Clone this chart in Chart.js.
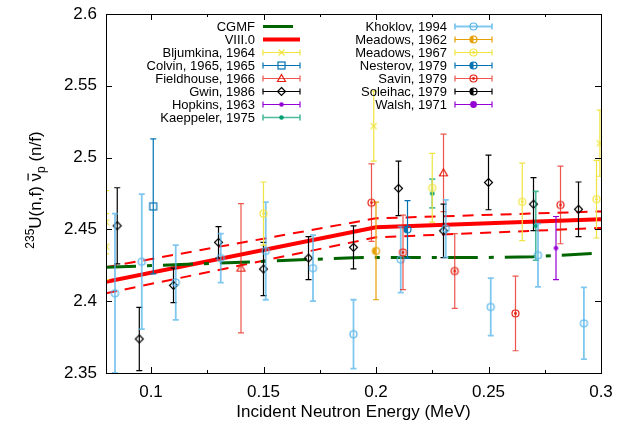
<!DOCTYPE html>
<html>
<head>
<meta charset="utf-8">
<script src="https://cdn.jsdelivr.net/npm/chart.js@4.4.0/dist/chart.umd.min.js"></script>
<style>
  html, body { margin: 0; padding: 0; background: #fff; }
  #wrap { width: 618px; height: 424px; }
</style>
</head>
<body>
<div id="wrap"><canvas id="chart"></canvas></div>
<script>
// ---------- axes ----------
const xTicks = [0.1, 0.15, 0.2, 0.25, 0.3];
const xTickLabels = ["0.1", "0.15", "0.2", "0.25", "0.3"];
const xMinorTicks = [0.125, 0.175, 0.225, 0.275];
const yTicks = [2.35, 2.4, 2.45, 2.5, 2.55, 2.6];
const yTickLabels = ["2.35", "2.4", "2.45", "2.5", "2.55", "2.6"];

// ---------- evaluations ----------
const cgmfE = [0.08, 0.13, 0.19, 0.21, 0.25, 0.27, 0.3];
const cgmfV = [2.4236, 2.4265, 2.4303, 2.4305, 2.4305, 2.431, 2.4335];
const endfE = [0.08, 0.2, 0.3];
const endfV = [2.4136, 2.4515, 2.457];
const endfHi = [2.4237, 2.4577, 2.4625];
const endfLo = [2.4055, 2.4445, 2.451];

// ---------- experiments (energy, nu-bar, uncertainty) ----------
const bljE = [0.0801, 0.0801, 0.199, 0.2995];
const bljV = [2.455, 2.438, 2.522, 2.510];
const bljErr = [0.022, 0.023, 0.0245, 0.023];

const colE = [0.101];
const colV = [2.466];
const colErr = [0.047];

const fieE = [0.140, 0.230];
const fieV = [2.423, 2.4894];
const fieErr = [0.045, 0.027];

const gwinE = [0.085, 0.0948, 0.110, 0.130, 0.150, 0.170, 0.190, 0.210, 0.230, 0.250, 0.270, 0.290];
const gwinV = [2.4525, 2.3737, 2.411, 2.441, 2.4224, 2.430, 2.4375, 2.4786, 2.449, 2.4827, 2.4676, 2.464];
const gwinErr = [0.0265, 0.022, 0.012, 0.011, 0.0185, 0.015, 0.015, 0.019, 0.0186, 0.019, 0.0185, 0.019];

const hopE = [0.280];
const hopV = [2.437];
const hopErr = [0.022];

const kaeE = [0.225, 0.271];
const kaeV = [2.475, 2.4525];
const kaeErr = [0.01, 0.024];

const khoE = [0.084, 0.0959, 0.111, 0.131, 0.151, 0.172, 0.190, 0.211, 0.231, 0.251, 0.272, 0.2924];
const khoV = [2.4055, 2.4275, 2.413, 2.430, 2.435, 2.423, 2.377, 2.429, 2.4505, 2.396, 2.432, 2.3846];
const khoErr = [0.0555, 0.047, 0.026, 0.017, 0.034, 0.023, 0.024, 0.023, 0.02, 0.02, 0.022, 0.025];

const m62E = [0.200];
const m62V = [2.435];
const m62Err = [0.034];

const m67E = [0.150, 0.225, 0.265, 0.298];
const m67V = [2.461, 2.479, 2.4692, 2.471];
const m67Err = [0.022, 0.024, 0.027, 0.027];

const nesE = [0.214];
const nesV = [2.450];
const nesErr = [0.02];

const savE = [0.198, 0.212, 0.235, 0.262, 0.282];
const savV = [2.4686, 2.434, 2.421, 2.3915, 2.467];
const savErr = [0.027, 0.026, 0.026, 0.026, 0.027];

const solE = [];
const solV = [];
const solErr = [];

const walE = [];
const walV = [];
const walErr = [];

// ---------- styling ----------
const FONT = '"Liberation Sans", Arial, Helvetica, sans-serif';
const COL = {
  purple: "#9400d3", teal: "#009e73", sky: "#56b4e9", orange: "#e69f00",
  yellow: "#f0e442", blue: "#0072b2", red: "#e51e10", black: "#000000"
};

function drawMarker(g, kind, x, y, color) {
  const r = 3.5;
  g.save();
  g.strokeStyle = color;
  g.fillStyle = color;
  g.lineWidth = 1.2;
  g.beginPath();
  switch (kind) {
    case "x":
      g.moveTo(x - 3, y - 3); g.lineTo(x + 3, y + 3);
      g.moveTo(x - 3, y + 3); g.lineTo(x + 3, y - 3);
      g.stroke();
      break;
    case "square":
      g.strokeRect(x - 3.5, y - 3.5, 7, 7);
      break;
    case "triangle":
      g.moveTo(x, y - 4); g.lineTo(x + 4, y + 3); g.lineTo(x - 4, y + 3); g.closePath();
      g.stroke();
      break;
    case "diamond":
      g.moveTo(x, y - 4); g.lineTo(x + 4, y); g.lineTo(x, y + 4); g.lineTo(x - 4, y); g.closePath();
      g.stroke();
      break;
    case "dot":
      g.arc(x, y, 2.3, 0, Math.PI * 2); g.fill();
      break;
    case "disc":
      g.arc(x, y, 3.4, 0, Math.PI * 2); g.fill();
      break;
    case "circle":
      g.arc(x, y, r, 0, Math.PI * 2); g.stroke();
      break;
    case "circleDot":
      g.arc(x, y, r, 0, Math.PI * 2); g.stroke();
      g.beginPath(); g.arc(x, y, 1.4, 0, Math.PI * 2); g.fill();
      break;
    case "half":
      g.arc(x, y, r, 0, Math.PI * 2); g.stroke();
      g.beginPath(); g.arc(x, y, r, Math.PI / 2, Math.PI * 1.5); g.fill();
      break;
  }
  g.restore();
}

function makeMarker(kind, color) {
  const c = document.createElement("canvas");
  c.width = 13; c.height = 13;
  drawMarker(c.getContext("2d"), kind, 6.5, 6.5, color);
  return c;
}

function pts(e, v) {
  return e.map((x, i) => ({ x, y: v[i] }));
}

function hexAlpha(hex, a) {
  const n = parseInt(hex.slice(1), 16);
  return `rgba(${(n >> 16) & 255},${(n >> 8) & 255},${n & 255},${a})`;
}

let order = 100;
function expSet(label, e, v, err, color, marker, barAlpha, barWidth) {
  return {
    label,
    data: pts(e, v),
    err,
    marker,
    color,
    barColor: barAlpha ? hexAlpha(color, barAlpha) : color,
    barWidth: barWidth || 1.2,
    showLine: false,
    pointStyle: makeMarker(marker, color),
    pointRadius: 5,
    pointHoverRadius: 5,
    order: order--,
  };
}

function lineSet(label, e, v, color, width, dash, inLegend) {
  return {
    label,
    data: pts(e, v),
    showLine: true,
    borderColor: color,
    borderWidth: width,
    borderDash: dash,
    pointRadius: 0,
    pointHoverRadius: 0,
    fill: false,
    tension: 0,
    inLegend,
    order: 1000,
  };
}

const datasets = [
  lineSet("CGMF", cgmfE, cgmfV, "#006400", 3, [30, 11, 5, 11], true),
  lineSet("VIII.0", endfE, endfV, "#ff0000", 4, [], true),
  lineSet("VIII.0 hi", endfE, endfHi, "#ff0000", 2, [11, 8], false),
  lineSet("VIII.0 lo", endfE, endfLo, "#ff0000", 2, [11, 8], false),
  expSet("Bljumkina, 1964", bljE, bljV, bljErr, COL.yellow, "x"),
  expSet("Colvin, 1965, 1965", colE, colV, colErr, COL.blue, "square"),
  expSet("Fieldhouse, 1966", fieE, fieV, fieErr, COL.red, "triangle", 0.75),
  expSet("Gwin, 1986", gwinE, gwinV, gwinErr, COL.black, "diamond"),
  expSet("Hopkins, 1963", hopE, hopV, hopErr, COL.purple, "dot"),
  expSet("Kaeppeler, 1975", kaeE, kaeV, kaeErr, COL.teal, "dot", 0.7, 1.6),
  expSet("Khoklov, 1994", khoE, khoV, khoErr, COL.sky, "circle", 0.75, 1.8),
  expSet("Meadows, 1962", m62E, m62V, m62Err, COL.orange, "half"),
  expSet("Meadows, 1967", m67E, m67V, m67Err, COL.yellow, "circleDot"),
  expSet("Nesterov, 1979", nesE, nesV, nesErr, COL.blue, "half"),
  expSet("Savin, 1979", savE, savV, savErr, COL.red, "circleDot", 0.75),
  expSet("Soleihac, 1979", solE, solV, solErr, COL.black, "half"),
  expSet("Walsh, 1971", walE, walV, walErr, COL.purple, "disc"),
];

// ---------- plugins ----------
const errorBars = {
  id: "errorBars",
  beforeDatasetDraw(chart, args) {
    const ds = chart.data.datasets[args.index];
    if (!ds.err) return;
    const { ctx, chartArea: a } = chart;
    const xs = chart.scales.x, ys = chart.scales.y;
    ctx.save();
    ctx.beginPath();
    ctx.rect(a.left, a.top, a.right - a.left, a.bottom - a.top);
    ctx.clip();
    ctx.strokeStyle = ds.barColor;
    ctx.lineWidth = ds.barWidth;
    ds.data.forEach((p, i) => {
      const px = xs.getPixelForValue(p.x);
      const top = ys.getPixelForValue(p.y + ds.err[i]);
      const bot = ys.getPixelForValue(p.y - ds.err[i]);
      ctx.beginPath();
      ctx.moveTo(px, top); ctx.lineTo(px, bot);
      ctx.moveTo(px - 3, top); ctx.lineTo(px + 3, top);
      ctx.moveTo(px - 3, bot); ctx.lineTo(px + 3, bot);
      ctx.stroke();
    });
    ctx.restore();
  },
};

function drawFrame(chart) {
  const { ctx, chartArea: a } = chart;
  const xs = chart.scales.x, ys = chart.scales.y;
  ctx.save();
  ctx.strokeStyle = "#000";
  ctx.lineWidth = 1;
  ctx.strokeRect(Math.round(a.left) + 0.5, Math.round(a.top) + 0.5,
    Math.round(a.right - a.left), Math.round(a.bottom - a.top));
  ctx.beginPath();
  const tickX = (v, len) => {
    const px = Math.round(xs.getPixelForValue(v)) + 0.5;
    ctx.moveTo(px, a.bottom); ctx.lineTo(px, a.bottom - len);
    ctx.moveTo(px, a.top); ctx.lineTo(px, a.top + len);
  };
  xTicks.forEach(v => tickX(v, 6));
  xMinorTicks.forEach(v => tickX(v, 3));
  yTicks.forEach(v => {
    const py = Math.round(ys.getPixelForValue(v)) + 0.5;
    ctx.moveTo(a.left, py); ctx.lineTo(a.left + 6, py);
    ctx.moveTo(a.right, py); ctx.lineTo(a.right - 6, py);
  });
  ctx.stroke();
  ctx.restore();
}

function drawTitles(chart) {
  const { ctx, chartArea: a } = chart;
  ctx.save();
  ctx.fillStyle = "#000";
  ctx.font = `17px ${FONT}`;
  ctx.textAlign = "center";
  ctx.textBaseline = "alphabetic";
  ctx.fillText("Incident Neutron Energy (MeV)", (a.left + a.right) / 2, 416.5);

  // y title: 235U(n,f) nu-bar_p (n/f)
  const big = `17px ${FONT}`, small = `12px ${FONT}`;
  const parts = [
    { t: "235", f: small, dy: -7 },
    { t: "U(n,f) ", f: big, dy: 0 },
    { t: "ν", f: big, dy: 0, bar: true },
    { t: "p", f: small, dy: 4 },
    { t: " (n/f)", f: big, dy: 0 },
  ];
  ctx.translate(41, 190);
  ctx.rotate(-Math.PI / 2);
  ctx.textAlign = "left";
  let total = 0;
  parts.forEach(p => { ctx.font = p.f; p.w = ctx.measureText(p.t).width; total += p.w; });
  let x = -total / 2;
  parts.forEach(p => {
    ctx.font = p.f;
    ctx.fillText(p.t, x, p.dy);
    if (p.bar) ctx.fillRect(x + 1, -13.5, p.w - 1.5, 1.2);
    x += p.w;
  });
  ctx.restore();
}

function drawLegend(chart) {
  const { ctx } = chart;
  const items = chart.data.datasets.filter(d => d.inLegend || d.err);
  const cols = [
    { textRight: 255, x0: 263, x1: 300 },
    { textRight: 447, x0: 455, x1: 492 },
  ];
  ctx.save();
  ctx.font = `13px ${FONT}`;
  ctx.textAlign = "right";
  ctx.textBaseline = "middle";
  items.forEach((d, i) => {
    const col = cols[i < 8 ? 0 : 1];
    const row = i < 8 ? i : i - 8;
    const y = 26.5 + row * 13;
    ctx.fillStyle = "#000";
    ctx.fillText(d.label, col.textRight, y + 0.5);
    ctx.save();
    if (d.err) {
      ctx.strokeStyle = d.barColor;
      ctx.lineWidth = d.barWidth;
      ctx.beginPath();
      ctx.moveTo(col.x0, y); ctx.lineTo(col.x1, y);
      ctx.moveTo(col.x0, y - 3); ctx.lineTo(col.x0, y + 3);
      ctx.moveTo(col.x1, y - 3); ctx.lineTo(col.x1, y + 3);
      ctx.stroke();
      drawMarker(ctx, d.marker, (col.x0 + col.x1) / 2, y, d.color);
    } else {
      ctx.strokeStyle = d.borderColor;
      ctx.lineWidth = d.borderWidth;
      ctx.setLineDash(d.borderDash);
      ctx.beginPath();
      ctx.moveTo(col.x0, y); ctx.lineTo(col.x1, y);
      ctx.stroke();
    }
    ctx.restore();
  });
  ctx.restore();
}

const decorations = {
  id: "decorations",
  afterDraw(chart) {
    drawFrame(chart);
    drawTitles(chart);
    drawLegend(chart);
  },
};

// ---------- chart ----------
Chart.defaults.font.family = FONT;
Chart.defaults.color = "#000";

new Chart(document.getElementById("chart"), {
  type: "scatter",
  data: { datasets },
  options: {
    responsive: true,
    maintainAspectRatio: false,
    animation: false,
    events: [],
    layout: { padding: { left: 0, top: 14, right: 17, bottom: 0 } },
    plugins: { legend: { display: false }, tooltip: { enabled: false } },
    scales: {
      x: {
        type: "linear",
        min: 0.08,
        max: 0.3,
        grid: { display: false, drawTicks: false },
        border: { display: false },
        afterBuildTicks: s => { s.ticks = xTicks.map(v => ({ value: v })); },
        afterFit: s => { s.height = 51; s.paddingLeft = 0; s.paddingRight = 0; },
        ticks: {
          font: { size: 17 },
          padding: 9,
          autoSkip: false,
          maxRotation: 0,
          callback: (v) => xTickLabels[xTicks.indexOf(v)],
        },
      },
      y: {
        type: "linear",
        min: 2.35,
        max: 2.6,
        grid: { display: false, drawTicks: false },
        border: { display: false },
        afterBuildTicks: s => { s.ticks = yTicks.map(v => ({ value: v })); },
        afterFit: s => { s.width = 106; s.paddingTop = 0; s.paddingBottom = 0; },
        ticks: {
          font: { size: 17 },
          padding: 9,
          labelOffset: 0,
          autoSkip: false,
          callback: (v) => yTickLabels[yTicks.indexOf(v)],
        },
      },
    },
  },
  plugins: [errorBars, decorations],
});
</script>
</body>
</html>
